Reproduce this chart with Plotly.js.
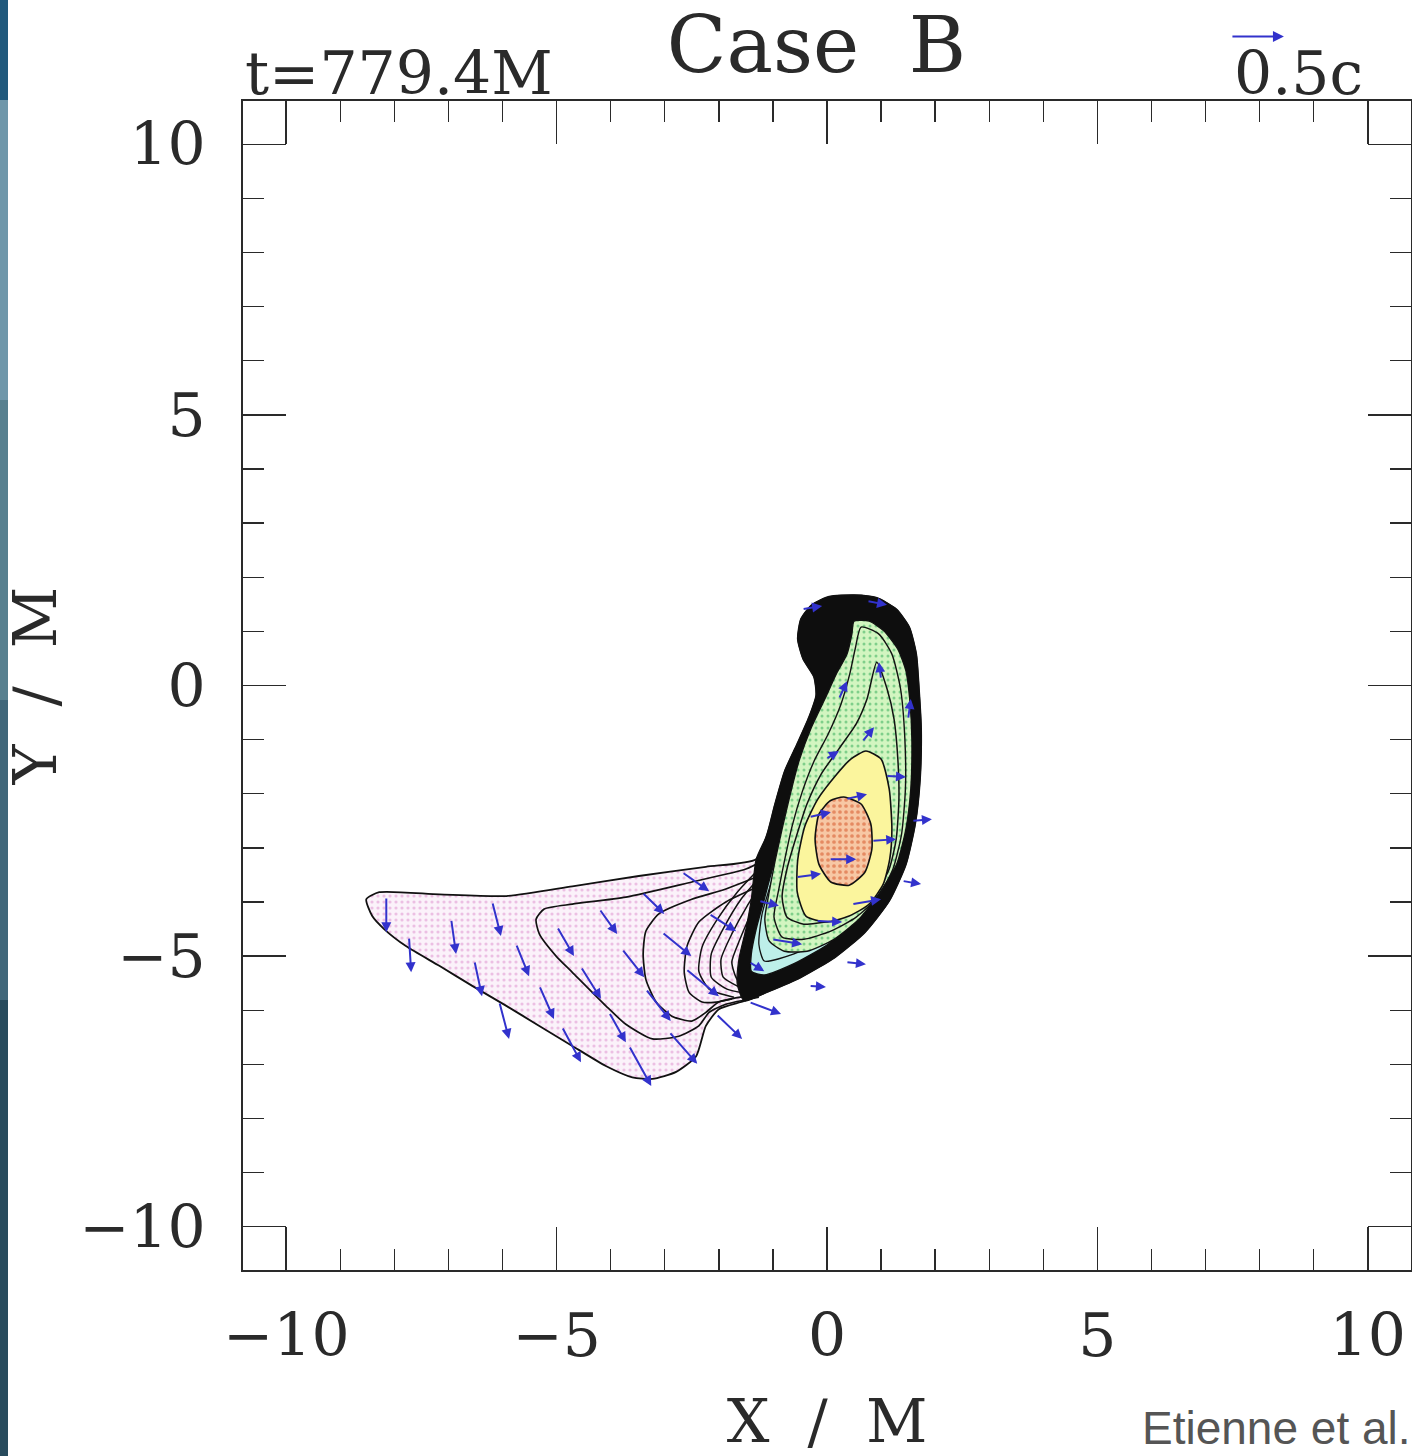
<!DOCTYPE html>
<html>
<head>
<meta charset="utf-8">
<script src="https://cdn.plot.ly/plotly-3.0.1.min.js"></script>
<style>
  html, body { margin: 0; padding: 0; background: #ffffff; }
  #chart { width: 1412px; height: 1456px; }
</style>
</head>
<body>
<div id="chart"></div>
<script>
// ---------- density contours (X/M, Y/M) ----------
const c1X = [-8.52,-8.28,-7.17,-5.93,-4.71,-3.48,-2.24,-1.31,-1.11,-0.96,-0.78,-0.55,-0.33,-0.20,-0.24,-0.44,-0.54,-0.48,-0.28,0.04,0.50,0.92,1.28,1.52,1.65,1.70,1.74,1.72,1.63,1.46,1.15,0.70,0.15,-0.48,-1.07,-1.53,-2.00,-2.24,-2.42,-2.79,-3.23,-3.60,-4.09,-4.71,-5.32,-5.93,-6.56,-7.17,-7.78,-8.19,-8.41,-8.52];
const c1Y = [-3.95,-3.82,-3.86,-3.89,-3.71,-3.52,-3.35,-3.21,-2.76,-2.19,-1.58,-1.08,-0.58,-0.18,0.16,0.49,0.86,1.23,1.49,1.64,1.67,1.62,1.41,1.08,0.58,-0.06,-0.80,-1.73,-2.56,-3.30,-3.98,-4.56,-5.02,-5.39,-5.65,-5.83,-5.98,-6.29,-6.85,-7.14,-7.27,-7.24,-7.03,-6.66,-6.29,-5.92,-5.55,-5.18,-4.82,-4.50,-4.26,-3.95];

const c2X = [-1.13,-1.50,-2.50,-3.72,-4.71,-5.23,-5.38,-5.32,-5.01,-4.71,-4.09,-3.72,-3.23,-2.74,-2.37,-2.18,-1.87,-1.26];
const c2Y = [-3.21,-3.39,-3.63,-3.91,-4.04,-4.13,-4.32,-4.59,-5.00,-5.30,-5.92,-6.26,-6.53,-6.48,-6.29,-6.04,-5.89,-5.76];

const c3X = [-1.26,-1.87,-2.50,-3.11,-3.35,-3.40,-3.35,-3.16,-2.87,-2.50,-2.24,-2.00,-1.50];
const c3Y = [-3.52,-3.76,-3.95,-4.22,-4.54,-4.96,-5.43,-5.85,-6.11,-6.20,-6.04,-5.85,-5.74];

const c4X = [-1.26,-1.87,-2.37,-2.59,-2.64,-2.55,-2.31,-2.05,-1.76];
const c4Y = [-3.71,-4.00,-4.37,-4.82,-5.30,-5.67,-5.85,-5.85,-5.79];

const c5X = [-1.22,-1.66,-2.03,-2.31,-2.37,-2.18,-1.72];
const c5Y = [-3.35,-3.82,-4.32,-4.83,-5.28,-5.61,-5.76];

const c6X = [-1.18,-1.59,-1.90,-2.14,-2.14,-1.85,-1.53];
const c6Y = [-3.47,-3.95,-4.46,-4.96,-5.39,-5.61,-5.68];

const c7X = [-1.15,-1.48,-1.76,-1.96,-1.92,-1.63];
const c7Y = [-3.58,-4.08,-4.59,-5.06,-5.39,-5.57];

const c8X = [-1.11,-1.39,-1.61,-1.76,-1.66,-1.44];
const c8Y = [-3.69,-4.19,-4.69,-5.11,-5.43,-5.52];

// dense (black) band of the main body, including the compact object
const bodyX = [-1.31,-1.11,-0.96,-0.78,-0.55,-0.33,-0.20,-0.24,-0.44,-0.54,-0.48,-0.28,0.04,0.50,0.92,1.28,1.52,1.65,1.70,1.74,1.72,1.63,1.46,1.15,0.70,0.15,-0.48,-1.07,-1.53,-1.66,-1.63,-1.50,-1.40,-1.31];
const bodyY = [-3.21,-2.76,-2.19,-1.58,-1.08,-0.58,-0.18,0.16,0.49,0.86,1.23,1.49,1.64,1.67,1.62,1.41,1.08,0.58,-0.06,-0.80,-1.73,-2.56,-3.30,-3.98,-4.56,-5.02,-5.39,-5.65,-5.83,-5.52,-5.06,-4.50,-3.95,-3.21];

const cyanX = [-0.70,-0.98,-1.16,-1.31,-1.40,-1.40,-1.16,-0.59,0.02,0.54,0.92,0.96,0.04,-0.70];
const cyanY = [-2.65,-3.30,-3.95,-4.50,-4.96,-5.28,-5.35,-5.13,-4.78,-4.33,-3.87,-3.58,-3.39,-2.65];

const k1X = [-0.83,-1.04,-1.20,-1.26,-1.16,-0.61,0.04,0.59];
const k1Y = [-3.02,-3.67,-4.22,-4.78,-5.09,-4.96,-4.63,-4.17];

const greenX = [0.50,0.78,1.05,1.31,1.46,1.53,1.57,1.55,1.46,1.29,0.96,0.59,0.13,-0.37,-0.79,-1.07,-1.15,-1.07,-0.96,-0.83,-0.68,-0.52,-0.30,-0.04,0.17,0.37,0.46,0.50];
const greenY = [1.19,1.19,1.01,0.67,0.27,-0.25,-0.99,-1.91,-2.65,-3.30,-3.85,-4.32,-4.69,-4.91,-4.91,-4.72,-4.32,-3.82,-3.24,-2.65,-2.01,-1.40,-0.80,-0.25,0.21,0.58,0.95,1.19];

const g3X = [0.63,0.96,1.20,1.36,1.44,1.45,1.38,1.22,0.94,0.54,0.07,-0.43,-0.83,-0.98,-0.89,-0.78,-0.64,-0.46,-0.24,0.02,0.26,0.42,0.52,0.63];
const g3Y = [1.08,0.95,0.58,-0.06,-0.99,-1.91,-2.74,-3.39,-3.91,-4.28,-4.54,-4.69,-4.65,-4.28,-3.76,-3.21,-2.58,-1.97,-1.40,-0.90,-0.34,0.21,0.67,1.08];

const g2X = [0.92,1.11,1.24,1.31,1.33,1.28,1.15,0.89,0.52,0.04,-0.43,-0.74,-0.83,-0.74,-0.57,-0.37,-0.11,0.22,0.54,0.74,0.92];
const g2Y = [0.43,-0.06,-0.62,-1.36,-2.10,-2.84,-3.39,-3.85,-4.17,-4.35,-4.41,-4.28,-3.91,-3.39,-2.80,-2.19,-1.64,-1.17,-0.71,-0.25,0.43];

const yellowX = [0.72,1.00,1.15,1.20,1.16,1.04,0.78,0.41,-0.02,-0.39,-0.55,-0.54,-0.41,-0.17,0.18,0.44,0.72];
const yellowY = [-1.21,-1.36,-1.91,-2.65,-3.21,-3.67,-4.04,-4.26,-4.37,-4.26,-3.82,-3.21,-2.60,-2.10,-1.64,-1.36,-1.21];

const orangeX = [0.31,0.63,0.81,0.83,0.70,0.41,0.07,-0.15,-0.22,-0.15,0.06,0.31];
const orangeY = [-2.06,-2.19,-2.56,-3.02,-3.45,-3.69,-3.63,-3.30,-2.84,-2.38,-2.13,-2.06];

// ---------- velocity arrows: tail (x, y) and vector (u, v) ----------
const arrowX = [-8.15,-7.73,-6.95,-6.52,-6.19,-6.06,-5.75,-5.32,-4.99,-4.90,-4.55,-4.21,-4.03,-3.66,-3.79,-3.42,-3.35,-2.92,-3.05,-2.68,-2.61,-2.18,-2.05,-1.44,-0.33,0.35,0.83,0.04,-0.57,0.46,-0.20,-1.02,1.57,1.39,0.35,-0.33,-1.44,1.09,-1.26,-0.46,1.00,0.65,-0.02,1.50,0.74,0.22];
const arrowY = [-3.91,-4.65,-4.32,-5.09,-4.00,-5.85,-4.78,-5.55,-4.46,-6.31,-5.20,-4.13,-6.04,-6.66,-4.87,-3.82,-5.61,-6.40,-4.56,-3.45,-5.24,-4.22,-6.07,-5.85,-2.43,-2.10,-2.87,-3.21,-3.54,-4.04,-4.35,-4.69,-2.50,-3.61,-5.11,-5.55,-5.11,-1.67,-3.98,1.41,0.12,-1.04,-1.36,-0.62,1.56,-0.25];
const arrowU = [0,0.04,0.09,0.14,0.16,0.18,0.24,0.27,0.31,0.35,0.37,0.33,0.31,0.41,0.41,0.41,0.46,0.52,0.54,0.50,0.61,0.50,0.48,0.59,0.40,0.39,0.45,0.50,0.46,0.54,0.48,0.56,0.37,0.35,0.37,0.31,0.28,0.37,0.37,0.37,-0.04,0.22,0.24,0.05,0.37,0.15];
const arrowV = [-0.65,-0.65,-0.64,-0.65,-0.63,-0.68,-0.59,-0.61,-0.54,-0.65,-0.59,-0.46,-0.55,-0.74,-0.52,-0.40,-0.59,-0.59,-0.44,-0.35,-0.50,-0.32,-0.46,-0.22,0.09,0.09,0.03,0,0.06,0.09,-0.02,-0.09,0.03,-0.06,-0.04,-0.02,-0.17,-0.02,-0.09,0.06,0.31,0.27,0.15,0.37,-0.07,0.33];

// reference vector (0.5c) drawn above the frame
const refArrowX = [7.47];
const refArrowY = [11.99];
const refArrowU = [0.98];
const refArrowV = [0];

// ---------- axes ----------
const axisRange = [-10.8, 10.8];
const tickVals = [-10, -5, 0, 5, 10];
const tickText = ['\u221210', '\u22125', '0', '5', '10'];

const SERIF = 'DejaVu Serif, Liberation Serif, serif';
const INK = '#2a2a2a';
const ARROW = '#3232cc';

function poly(x, y, fillcolor, lw, extra) {
  const t = { type: 'scatter', mode: 'lines', x: x, y: y, hoverinfo: 'skip',
    line: { color: '#111111', width: lw, shape: 'spline', smoothing: 0.6 } };
  if (fillcolor) { t.fill = 'toself'; t.fillcolor = fillcolor; }
  return Object.assign(t, extra || {});
}

const traces = [
  poly(c1X, c1Y, '#f8ebf6', 1.8, { fillpattern: { shape: '.', bgcolor: '#fbf2fa', fgcolor: '#ecbfe3', size: 6, solidity: 0.22 } }),
  poly(c2X, c2Y, null, 1.7),
  poly(c3X, c3Y, null, 1.7),
  poly(c4X, c4Y, null, 1.6),
  poly(c5X, c5Y, null, 1.5),
  poly(c6X, c6Y, null, 1.5),
  poly(c7X, c7Y, null, 1.5),
  poly(c8X, c8Y, null, 1.5),
  poly(bodyX, bodyY, '#0e0e0e', 1.2),
  poly(cyanX, cyanY, '#bdefe9', 1.4),
  poly(k1X, k1Y, null, 1.3),
  poly(greenX, greenY, '#c9f2b4', 1.4, { fillpattern: { shape: '.', bgcolor: '#d2f5c0', fgcolor: '#7fcf8a', size: 6, solidity: 0.2 } }),
  poly(g3X, g3Y, null, 1.4),
  poly(g2X, g2Y, null, 1.5),
  poly(yellowX, yellowY, '#fbf59d', 1.6),
  poly(orangeX, orangeY, '#f4b58e', 1.6, { fillpattern: { shape: '.', bgcolor: '#f7c7a4', fgcolor: '#e58a62', size: 6, solidity: 0.3 } })
];

const annotations = [];
for (let i = 0; i < arrowX.length; i++) {
  annotations.push({
    x: arrowX[i] + arrowU[i], y: arrowY[i] + arrowV[i],
    ax: arrowX[i], ay: arrowY[i],
    xref: 'x', yref: 'y', axref: 'x', ayref: 'y',
    text: '', showarrow: true, arrowhead: 2, arrowsize: 1.0, arrowwidth: 2.0,
    arrowcolor: ARROW, standoff: 0
  });
}
// the reference vector sits outside the axis range, so place it in paper units
const span = axisRange[1] - axisRange[0];
const plotW = 1168;
for (let i = 0; i < refArrowX.length; i++) {
  annotations.push({
    x: (refArrowX[i] + refArrowU[i] - axisRange[0]) / span,
    y: (refArrowY[i] - axisRange[0]) / span,
    ax: -refArrowU[i] / span * plotW, ay: refArrowV[i] / span * plotW,
    xref: 'paper', yref: 'paper',
    text: '', showarrow: true, arrowhead: 2, arrowsize: 1.1, arrowwidth: 2.0,
    arrowcolor: ARROW, standoff: 0
  });
}
annotations.push({ text: 't=779.4M', xref: 'paper', yref: 'paper', x: 0.0, y: 1.0,
  xanchor: 'left', yanchor: 'bottom', showarrow: false, yshift: -9,
  font: { family: SERIF, size: 60, color: INK } });
annotations.push({ text: '0.5c', xref: 'paper', yref: 'paper', x: 0.961, y: 1.0,
  xanchor: 'right', yanchor: 'bottom', showarrow: false, yshift: -9,
  font: { family: SERIF, size: 60, color: INK } });
annotations.push({ text: 'Etienne et al.', xref: 'paper', yref: 'paper', x: 0.768, y: -0.135,
  xanchor: 'left', yanchor: 'middle', showarrow: false,
  font: { family: 'Liberation Sans, Arial, sans-serif', size: 46, color: '#555555' } });

const stripColors = ['#21597c', '#6f97aa', '#58808f', '#41677a', '#284b5d'];
const stripEdges = [1.0864, 1.0009, 0.7442, 0.4876, 0.2310, -0.1591];
const shapes = stripColors.map((c, i) => ({
  type: 'rect', xref: 'paper', yref: 'paper', x0: -0.20805, x1: -0.2012,
  y0: stripEdges[i + 1], y1: stripEdges[i], fillcolor: c, line: { width: 0 }, layer: 'below'
}));

function axis(titleText) {
  return {
    range: axisRange, tickmode: 'array', tickvals: tickVals, ticktext: tickText,
    ticks: 'inside', ticklen: 43, tickwidth: 1.6, tickcolor: INK,
    minor: { tick0: 0, dtick: 1, ticks: 'inside', ticklen: 21, tickwidth: 1.4, tickcolor: INK },
    showline: true, linecolor: INK, linewidth: 2.2, mirror: 'ticks',
    showgrid: false, zeroline: false, fixedrange: true,
    tickfont: { family: SERIF, size: 60, color: INK },
    title: { text: titleText, font: { family: SERIF, size: 60, color: INK } }
  };
}

const xa = axis('X\u00a0\u00a0/\u00a0\u00a0M');
xa.ticklabelstandoff = 12;
xa.title.standoff = 38;
const ya = axis('Y\u00a0\u00a0/\u00a0\u00a0M');
ya.ticklabelstandoff = 23;
ya.title.standoff = 28;

const layout = {
  width: 1412, height: 1456,
  margin: { l: 243, r: 1, t: 101, b: 186, pad: 0 },
  paper_bgcolor: '#ffffff', plot_bgcolor: '#ffffff',
  showlegend: false,
  title: { text: 'Case\u00a0\u00a0B', font: { family: SERIF, size: 78, color: INK },
    xref: 'paper', x: 0.491, xanchor: 'center', yref: 'container', y: 0.969, yanchor: 'middle' },
  xaxis: xa, yaxis: ya,
  annotations: annotations, shapes: shapes
};

Plotly.newPlot('chart', traces, layout, { displayModeBar: false, staticPlot: true });
</script>
</body>
</html>
